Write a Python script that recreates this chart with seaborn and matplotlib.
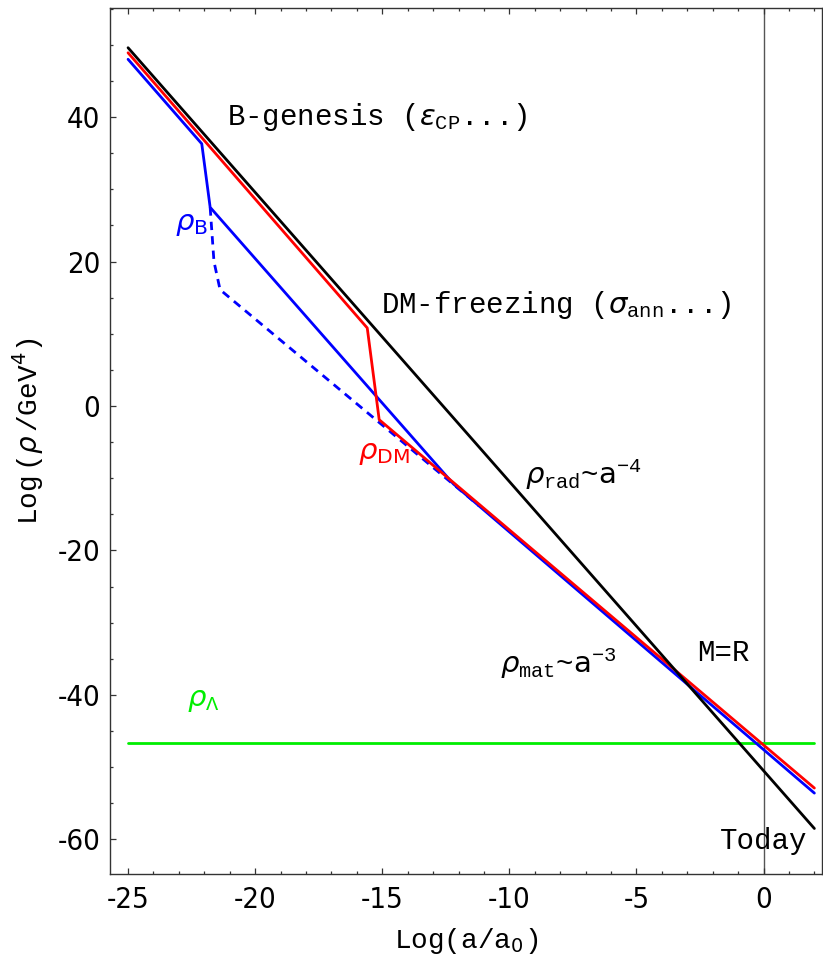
import matplotlib
matplotlib.use("Agg")
import matplotlib.pyplot as plt
from matplotlib import font_manager
from matplotlib.ticker import MultipleLocator
import seaborn as sns
import pandas as pd

# ---- data ----
rad_x = [-25.0, 2.0]
rad_y = [49.6, -58.5]

dm_x = [-25.0, -15.59, -15.12, 2.0]
dm_y = [48.9, 10.8, -1.9, -52.9]

b_x = [-25.0, -22.1, -21.77, -12.2, 2.0]
b_y = [48.0, 36.3, 27.5, -10.8, -53.6]

bdash_x = [-21.77, -21.62, -21.38, -11.2]
bdash_y = [27.5, 20.0, 16.1, -13.8]

lam_x = [-25.0, 2.0]
lam_y = [-46.6, -46.6]

x_ticks = [-25, -20, -15, -10, -5, 0]
y_ticks = [-60, -40, -20, 0, 20, 40]

sns.set_theme(style="ticks")
fl = font_manager.fontManager.ttflist
avail = {f.name for f in fl}
mono = "Liberation Mono" if "Liberation Mono" in avail else "DejaVu Sans Mono"

# narrow font for tick numbers
tick_font = {"family": "DejaVu Sans", "stretch": "normal", "size": 19}
if "Liberation Sans Narrow" in avail:
    tick_font = {"family": "Liberation Sans Narrow", "stretch": "normal", "size": 23}
else:
    cond = [f for f in fl if str(f.stretch) in ("condensed", "semi-condensed", "extra-condensed")
            and f.style == "normal" and f.weight in (400, "normal", "regular")]
    if cond:
        tick_font = {"family": cond[0].name, "stretch": cond[0].stretch, "size": 21}

plt.rcParams["font.family"] = [mono, "DejaVu Sans"]
plt.rcParams["text.color"] = "black"
plt.rcParams["axes.labelcolor"] = "black"
plt.rcParams["mathtext.fontset"] = "custom"
plt.rcParams["mathtext.rm"] = mono
plt.rcParams["mathtext.tt"] = mono
plt.rcParams["mathtext.it"] = "DejaVu Sans:italic"
plt.rcParams["mathtext.sf"] = "DejaVu Sans"
plt.rcParams["axes.unicode_minus"] = False

fig = plt.figure(figsize=(8.23, 9.59), dpi=100)
ax = fig.add_axes([110 / 823, 85 / 959, 712 / 823, 866 / 959])

def line(x, y, color, ls="-", lw=2.0):
    df = pd.DataFrame({"x": x, "y": y})
    sns.lineplot(data=df, x="x", y="y", ax=ax, color=color, linestyle=ls,
                 linewidth=lw, estimator=None, sort=False)

ax.axvline(0, color="#555555", lw=1.0, zorder=0)
line(lam_x, lam_y, "#00ee00")
line(bdash_x, bdash_y, "#0000ff", ls=(0, (3, 2.2)))
line(b_x, b_y, "#0000ff")
line(dm_x, dm_y, "#ff0000")
line(rad_x, rad_y, "#000000")

ax.set_xlim(-25.71, 2.3)
ax.set_ylim(-64.8, 55.1)
ax.set_xticks(x_ticks)
ax.set_yticks(y_ticks)
ax.xaxis.set_minor_locator(MultipleLocator(1))
ax.yaxis.set_minor_locator(MultipleLocator(5))
ax.tick_params(which="both", direction="in", top=True, right=False,
               color="#333333", width=0.9)
ax.tick_params(which="major", length=4.5)
ax.tick_params(which="minor", length=2.5)
ax.tick_params(axis="y", pad=7)
ax.tick_params(axis="x", pad=9)
for lab in ax.get_xticklabels() + ax.get_yticklabels():
    lab.set_fontfamily(tick_font["family"])
    lab.set_fontstretch(tick_font["stretch"])
    lab.set_fontsize(tick_font["size"])
    lab.set_color("black")
for s in ax.spines.values():
    s.set_color("#333333")
    s.set_linewidth(1.0)

ax.set_xlabel(r"Log(a/a$_{\mathsf{0}}$)", fontsize=20)
ax.set_ylabel(r"Log$\,$($\rho\,$/GeV$^{\mathsf{4}}$)", fontsize=20)
ax.xaxis.set_label_coords(0.5, -67 / 866, transform=ax.transAxes)
ax.yaxis.set_label_coords(-82 / 712, 0.5 + 10 / 866, transform=ax.transAxes)
ax.xaxis.label.set_va("center")
ax.yaxis.label.set_va("center")

fs = 21
ax.text(-21.1, 40.0, r"B-genesis ($\epsilon_{\mathrm{CP}}$...)", fontsize=fs, va="center", ha="left")
ax.text(-15.04, 14.0, r"DM-freezing ($\sigma_{\mathrm{ann}}$...)", fontsize=fs, va="center", ha="left")
ax.text(-23.15, 25.2, r"$\rho_{\mathsf{B}}$", fontsize=fs, color="#0000ff", va="center", ha="left")
ax.text(-15.94, -6.5, r"$\rho_{\mathsf{DM}}$", fontsize=fs, color="#ff0000", va="center", ha="left")
ax.text(-9.37, -9.5, r"$\rho_{\mathrm{rad}}$~$\mathsf{a}^{-4}$", fontsize=fs, va="center", ha="left")
ax.text(-10.35, -35.6, r"$\rho_{\mathrm{mat}}$~$\mathsf{a}^{-3}$", fontsize=fs, va="center", ha="left")
ax.text(-2.6, -34.2, "M=R", fontsize=fs, va="center", ha="left")
ax.text(-22.68, -40.7, r"$\rho_{\Lambda}$", fontsize=fs, color="#00ee00", va="center", ha="left")
ax.text(-1.73, -60.3, "Today", fontsize=fs, va="center", ha="left")

fig.savefig("out.png", dpi=100)
